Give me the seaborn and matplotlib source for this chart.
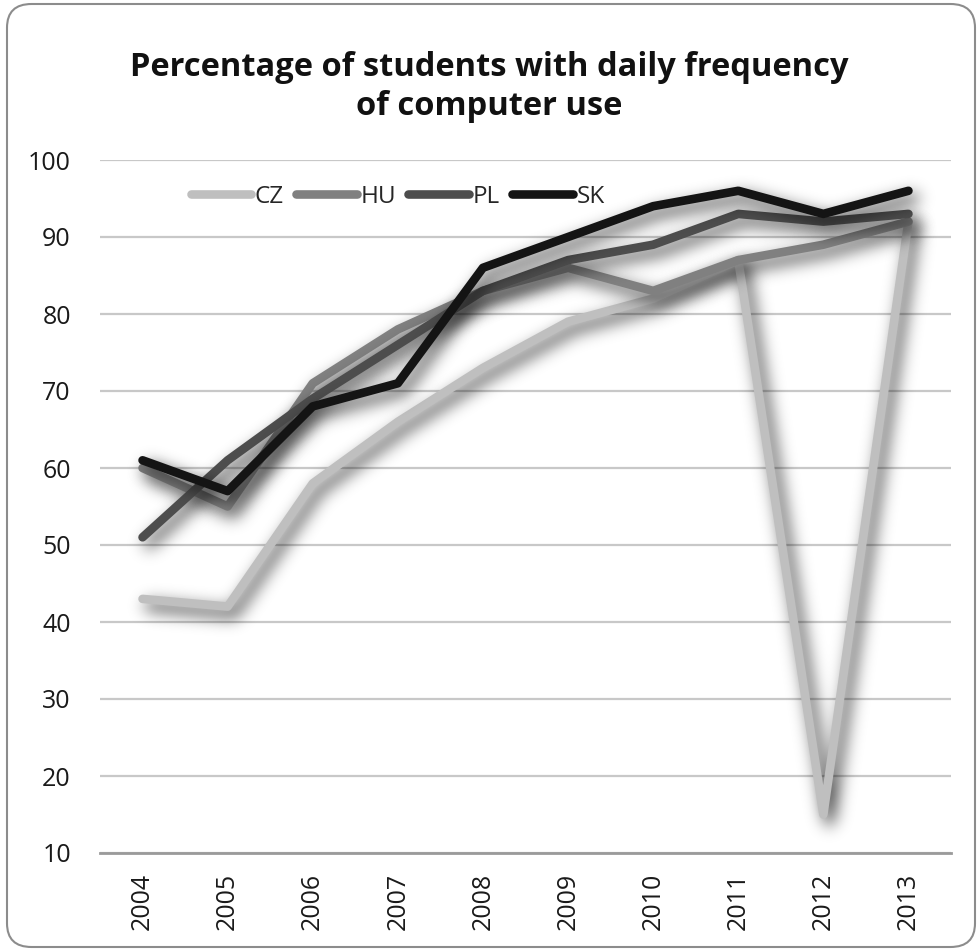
import matplotlib
matplotlib.use("Agg")
import matplotlib.pyplot as plt
from matplotlib.patches import FancyBboxPatch
from matplotlib.lines import Line2D
import seaborn as sns
import pandas as pd
import numpy as np

years = [2004, 2005, 2006, 2007, 2008, 2009, 2010, 2011, 2012, 2013]
cz = [43, 42, 58, 66, 73, 79, 82, 87, 15, 92]
hu = [60, 55, 71, 78, 83, 86, 83, 87, 89, 92]
pl = [51, 61, 69, 76, 83, 87, 89, 93, 92, 93]
sk = [61, 57, 68, 71, 86, 90, 94, 96, 93, 96]
countries = ["CZ", "HU", "PL", "SK"]
colors = ["#bfbfbf", "#808080", "#4d4d4d", "#141414"]

df = pd.DataFrame({
    "year": years * 4,
    "value": cz + hu + pl + sk,
    "country": [c for c in countries for _ in years],
})

W, H, DPI = 979, 951, 100
AX_RECT = (100, 98, 851, 693)          # left, bottom, width, height in pixels
XLIM, YLIM = (2003.5, 2013.5), (10, 100)
LW = 6.2


def _blur(a, sigma):
    r = int(3 * sigma)
    k = np.exp(-0.5 * (np.arange(-r, r + 1) / sigma) ** 2)
    k /= k.sum()
    a = np.apply_along_axis(lambda v: np.convolve(v, k, mode="same"), 0, a)
    a = np.apply_along_axis(lambda v: np.convolve(v, k, mode="same"), 1, a)
    return a


def soft_shadow(xs, ys, sigma=8.0, alpha=0.8, dx=6, dy=7):
    """Render a line off-screen, blur and shift it; returns RGBA for the axes area."""
    tmp = plt.figure(figsize=(W / DPI, H / DPI), dpi=DPI)
    tmp.patch.set_alpha(0)
    tax = tmp.add_axes([AX_RECT[0] / W, AX_RECT[1] / H, AX_RECT[2] / W, AX_RECT[3] / H])
    tax.set_xlim(*XLIM)
    tax.set_ylim(*YLIM)
    tax.axis("off")
    tax.plot(xs, ys, color="black", linewidth=LW, solid_capstyle="round",
             solid_joinstyle="round")
    tmp.canvas.draw()
    a = np.asarray(tmp.canvas.buffer_rgba())[..., 3].astype(float) / 255.0
    plt.close(tmp)
    a = _blur(a, sigma)
    a = np.roll(np.roll(a, dx, axis=1), dy, axis=0)
    top = H - AX_RECT[1] - AX_RECT[3]
    a = a[top:top + AX_RECT[3], AX_RECT[0]:AX_RECT[0] + AX_RECT[2]]
    out = np.zeros(a.shape + (4,))
    out[..., 3] = np.clip(a * alpha, 0, 1)
    return out


sns.set_theme(style="white")
plt.rcParams["font.family"] = ["Open Sans", "DejaVu Sans"]

fig = plt.figure(figsize=(W / DPI, H / DPI), dpi=DPI)
ax = fig.add_axes([AX_RECT[0] / W, AX_RECT[1] / H, AX_RECT[2] / W, AX_RECT[3] / H])

sns.lineplot(data=df, x="year", y="value", hue="country", hue_order=countries,
             palette=dict(zip(countries, colors)), linewidth=LW,
             solid_capstyle="round", solid_joinstyle="round", legend=False, ax=ax)

# each series gets its own soft shadow, stacked in series order
for i, line in enumerate(list(ax.lines)):
    line.set_zorder(3 + 2 * i + 1)
    xs, ys = line.get_data()
    ax.imshow(soft_shadow(xs, ys), extent=(*XLIM, *YLIM), aspect="auto",
              origin="upper", interpolation="nearest", zorder=3 + 2 * i)

ax.set_xlim(*XLIM)
ax.set_ylim(*YLIM)
ax.set_yticks(range(10, 101, 10))
ax.set_xticks(years)
ax.set_xticklabels([str(y) for y in years], rotation=90)
ax.set_xlabel("")
ax.set_ylabel("")
ax.tick_params(axis="y", length=0, pad=21, labelsize=18, labelcolor="#1a1a1a")
ax.tick_params(axis="x", length=0, pad=14, labelsize=18, labelcolor="#1a1a1a")
ax.grid(axis="y", color="#c8c8c8", linewidth=1.6)
ax.set_axisbelow(True)
for side in ("left", "right", "top"):
    ax.spines[side].set_visible(False)
ax.spines["bottom"].set_color("#9a9a9a")
ax.spines["bottom"].set_linewidth(2)

handles = [Line2D([0], [0], color=c, linewidth=LW, solid_capstyle="round") for c in colors]
leg = ax.legend(handles, countries, loc="upper left", bbox_to_anchor=(0.095, 0.978), ncol=4,
                frameon=False, fontsize=17.5, handlelength=2.5, handletextpad=0.15,
                columnspacing=0.5, borderaxespad=0)
leg.set_zorder(20)

fig.text(0.5, 1 - 115 / H, "Percentage of students with daily frequency\nof computer use",
         ha="center", va="baseline", fontsize=23.5, fontweight="bold", color="#111111",
         linespacing=1.25)

fig.patches.append(FancyBboxPatch((7 / W, 4 / H), 968 / W, 943 / H,
                                  boxstyle="round,pad=0,rounding_size=0.025",
                                  transform=fig.transFigure, facecolor="none",
                                  edgecolor="#8c8c8c", linewidth=1.5))

fig.savefig("out.png", dpi=DPI, facecolor="white")
